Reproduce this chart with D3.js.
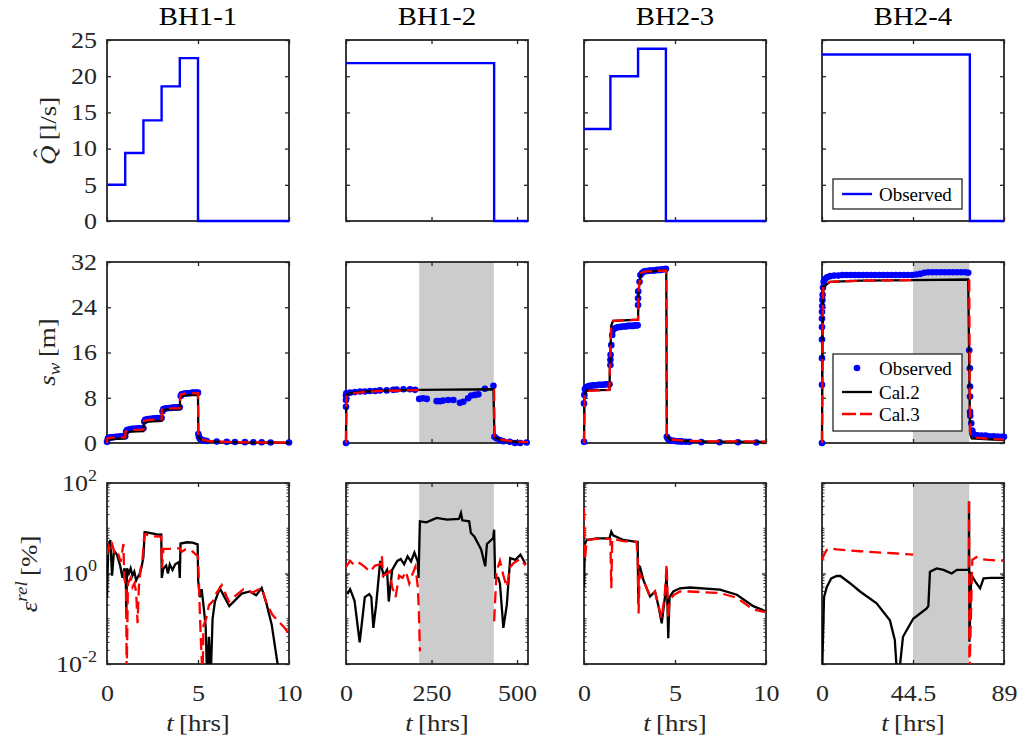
<!DOCTYPE html>
<html><head><meta charset="utf-8">
<script src="https://cdn.jsdelivr.net/npm/d3@7"></script>
<style>
body{margin:0;background:#fff;}
text{font-family:"Liberation Serif","Times New Roman",serif;}
</style></head><body>
<script>
// ---------------- data ----------------
const wells = ["BH1-1","BH1-2","BH2-3","BH2-4"];
const tMax = [10, 532, 10, 89];
const xTickVals = [[0,5,10],[0,250,500],[0,5,10],[0,44.5,89]];
const xTickLabels = [["0","5","10"],["0","250","500"],["0","5","10"],["0","44.5","89"]];
const qTickVals = [0,5,10,15,20,25];
const sTickVals = [0,8,16,24,32];
const eTickVals = [1e-2,1e0,1e2];
const eTickExp = ["-2","0","2"];
const shadeRanges = [null,[214,432],null,[44.5,72]];

// pumping rate (step after)
const qBH11 = [[0,5],[1,9.4],[2,13.9],[3,18.6],[4,22.5],[5,0],[10,0]];
const qBH12 = [[0,21.8],[433,0],[532,0]];
const qBH23 = [[0,12.7],[1.45,20.0],[2.97,23.8],[4.5,0],[10,0]];
const qBH24 = [[0,23.0],[72.3,0],[89,0]];

// drawdown observed
const obsBH11 = [[0,0.2],[0.05,0.8],[0.1,0.9],[0.2,1.0],[0.3,1.0],[0.4,1.05],[0.5,1.1],[0.6,1.1],[0.7,1.15],[0.8,1.2],[0.9,1.2],[1.0,1.2],
 [1.05,2.0],[1.1,2.3],[1.2,2.4],[1.3,2.45],[1.4,2.5],[1.5,2.5],[1.6,2.55],[1.7,2.55],[1.8,2.6],[1.9,2.6],[2.0,2.6],
 [2.05,3.8],[2.1,4.1],[2.2,4.2],[2.3,4.25],[2.4,4.3],[2.5,4.3],[2.6,4.35],[2.7,4.35],[2.8,4.4],[2.9,4.4],[3.0,4.4],
 [3.05,5.6],[3.1,6.0],[3.2,6.1],[3.3,6.15],[3.4,6.2],[3.5,6.2],[3.6,6.25],[3.7,6.25],[3.8,6.3],[3.9,6.3],[4.0,6.3],
 [4.05,8.3],[4.1,8.6],[4.2,8.7],[4.3,8.75],[4.4,8.8],[4.5,8.8],[4.6,8.85],[4.7,8.9],[4.8,8.9],[4.9,8.9],[5.0,8.9],
 [5.02,1.6],[5.05,1.1],[5.1,0.8],[5.15,0.65],[5.2,0.55],[5.3,0.45],[5.4,0.4],[5.48,0.35],[6.03,0.25],[6.58,0.2],[7.03,0.18],[7.58,0.15],[8.04,0.13],[8.5,0.12],[8.99,0.1],[10,0.1]];
const obsBH12 = [[0,0],[0,6.4],[0,7.6],[0,8.4],[1,8.8],[12,8.9],[26,9.0],[41,9.1],[55,9.1],[70,9.2],[85,9.2],[99,9.3],[119,9.3],[138,9.4],[148,9.45],[168,9.5],[187,9.5],[202,9.4],
 [214,7.8],[225,7.9],[236,7.8],[265,7.4],[275,7.4],[284,7.5],[299,7.6],[314,7.6],[333,7.1],[343,7.3],[357,7.9],[366,8.4],[377,8.5],[387,8.6],[406,9.6],[431,10.1],
 [434,1.1],[440,0.8],[450,0.5],[460,0.3],[479,0.2],[494,0.0],[509,0.0],[528,0.1]];
const obsBH23 = [[0,0.2],[0,7.0],[0.02,8.5],[0.05,9.5],[0.1,9.8],[0.2,10.0],[0.3,10.1],[0.4,10.1],[0.5,10.2],[0.6,10.2],[0.7,10.2],[0.8,10.3],[0.9,10.3],[1.0,10.3],[1.1,10.3],[1.2,10.4],[1.3,10.4],[1.4,10.4],
 [1.45,13.8],[1.45,14.7],[1.46,15.6],[1.5,17.3],[1.55,19.1],[1.6,20.0],[1.7,20.3],[1.8,20.4],[1.9,20.5],[2.0,20.5],[2.1,20.6],[2.2,20.6],[2.3,20.6],[2.4,20.7],[2.5,20.7],[2.6,20.7],[2.7,20.7],[2.8,20.8],[2.9,20.8],[2.95,20.8],
 [2.97,24.4],[2.97,25.6],[2.98,26.8],[3.05,28.5],[3.1,29.7],[3.2,30.1],[3.3,30.3],[3.4,30.4],[3.5,30.4],[3.6,30.5],[3.7,30.5],[3.8,30.5],[3.9,30.5],[4.0,30.6],[4.1,30.6],[4.2,30.6],[4.3,30.7],[4.4,30.7],[4.5,30.8],
 [4.55,1.1],[4.6,0.8],[4.65,0.6],[4.7,0.5],[4.8,0.45],[4.9,0.4],[5.0,0.35],[5.1,0.32],[5.2,0.3],[5.3,0.28],[5.4,0.25],[5.6,0.22],[5.8,0.2],[6.45,0.15],[7.45,0.12],[8.46,0.12],[9.47,0.1]];
const obsBH24 = [[0,0],[0,10.3],[0,15.0],[0,18.3],[0,20.5],[0,22.0],[0,23.2],[0.1,24.2],[0.2,25.3],[0.3,26.2],[0.5,27.5],[0.8,28.5],[1.5,29.0],[2.5,29.3],[4,29.5],[6,29.6],[8,29.6],[10,29.7],[12,29.7],[14,29.7],[16,29.7],[18,29.7],[20,29.7],[22,29.7],[24,29.7],[26,29.7],[28,29.7],[30,29.7],[32,29.7],[34,29.7],[36,29.7],[38,29.7],[40,29.7],[42,29.7],[44,29.7],[46,29.8],[48,29.9],[50,30.1],[52,30.2],[54,30.2],[56,30.2],[58,30.2],[60,30.2],[62,30.2],[64,30.2],[66,30.2],[68,30.2],[70,30.2],[71.5,30.1],
 [72,16.4],[72.3,13.2],[72.4,10.0],[72.4,8.2],[72.4,5.5],[72.5,4.8],[73,3.5],[73.5,2.2],[74,1.6],[75,1.4],[76,1.35],[78,1.3],[80,1.3],[82,1.2],[84,1.2],[86,1.15],[88,1.1],[89,1.1]];

// drawdown calibrated
const cal2BH11 = [[0,0],[0.02,0.6],[0.3,0.7],[1,0.8],[1.02,1.8],[1.3,2.0],[2,2.1],[2.02,3.6],[2.3,3.8],[3,3.9],[3.02,5.7],[3.3,5.95],[4,6.0],[4.02,8.2],[4.3,8.45],[5,8.5],[5.02,1.0],[5.2,0.5],[5.6,0.3],[6.5,0.15],[8,0.08],[10,0.05]];
const cal3BH11 = [[0,0],[0.02,0.8],[0.3,0.95],[1,1.0],[1.02,2.0],[1.3,2.3],[2,2.35],[2.02,3.9],[2.3,4.1],[3,4.15],[3.02,5.9],[3.3,6.1],[4,6.15],[4.02,8.5],[4.3,8.75],[5,8.8],[5.02,1.2],[5.2,0.6],[5.6,0.35],[6.5,0.2],[8,0.1],[10,0.08]];
const cal2BH12 = [[0,0],[1,8.4],[12,8.8],[50,9.1],[100,9.25],[216,9.4],[300,9.45],[431,9.5],[434,1.0],[445,0.7],[460,0.4],[500,0.2],[532,0.1]];
const cal3BH12 = [[0,0],[1,8.2],[12,8.7],[50,9.0],[100,9.2],[214,9.35],[215,null],[432,null],[433,9.5],[434,1.1],[445,0.8],[460,0.5],[500,0.25],[532,0.15]];
const cal2BH23 = [[0,0],[0.03,8.5],[0.15,9.3],[1.4,9.4],[1.42,13],[1.5,20.8],[1.6,21.6],[2.97,21.8],[3.0,27],[3.12,30.0],[3.3,30.3],[4.52,30.5],[4.55,1.3],[4.7,0.6],[5.5,0.35],[7,0.25],[10,0.2]];
const cal3BH23 = [[0,0],[0.03,8.7],[0.15,9.2],[1.4,9.4],[1.42,13],[1.5,20.8],[1.6,21.6],[2.97,21.8],[3.0,27],[3.12,30.0],[3.3,30.3],[4.52,30.5],[4.55,1.4],[4.7,0.65],[5.5,0.4],[7,0.3],[10,0.25]];
const cal2BH24 = [[0,0],[0.3,20],[0.65,27.6],[3.9,28.5],[18.6,28.7],[44.6,28.8],[71.5,28.9],[72.4,1.7],[73.2,0.8],[83.8,0.6],[89,0.5]];
const cal3BH24 = [[0,0],[0.3,21],[0.65,27.8],[3.9,28.5],[18.6,28.7],[44.5,28.8],[44.6,null],[71.9,null],[72.0,28.9],[72.4,1.9],[73.2,1.0],[83.8,0.7],[89,0.6]];

// relative error [%]
const err2BH11 = [[0,0.3],[0.07,4.0],[0.18,5.5],[0.28,0.9],[0.38,3.2],[0.55,2.6],[0.72,1.5],[0.85,0.8],[0.95,1.3],[1.03,1.0],[1.06,0.12],[1.1,1.3],[1.2,1.0],[1.3,1.3],[1.4,0.9],[1.5,1.1],[1.6,0.7],[1.7,0.85],[1.8,1.0],[1.9,1.4],[2.0,2.3],[2.07,8.2],[2.4,7.8],[2.8,7.2],[2.98,7.3],[3.01,0.8],[3.1,1.3],[3.25,1.5],[3.35,1.0],[3.45,1.6],[3.6,1.2],[3.75,1.6],[3.95,1.8],[4.0,0.8],[4.04,4.6],[4.4,4.9],[4.7,4.8],[4.98,4.4],[5.01,0.7],[5.1,0.3],[5.2,0.45],[5.3,0.2],[5.42,0.07],[5.5,0.005],[5.6,0.04],[5.7,0.005],[5.8,0.1],[5.93,0.24],[6.2,0.47],[6.72,0.19],[7.4,0.36],[7.85,0.40],[8.2,0.33],[8.5,0.48],[8.77,0.21],[9.05,0.074],[9.41,0.008]];
const err3BH11 = [[0,2.6],[0.1,4.0],[0.2,3.0],[0.3,4.2],[0.45,2.5],[0.6,2.8],[0.75,1.8],[0.9,4.5],[0.95,0.8],[1.05,0.5],[1.08,0.005],[1.15,0.6],[1.3,0.8],[1.4,0.5],[1.5,0.6],[1.6,0.4],[1.68,0.08],[1.75,0.5],[1.85,1.3],[1.95,2.0],[2.05,7.5],[2.4,6.8],[2.8,6.5],[2.98,6.5],[3.02,1.3],[3.1,3.5],[3.4,3.5],[3.8,3.6],[4.0,3.6],[4.1,3.0],[4.3,3.4],[4.6,3.3],[5.0,2.4],[5.05,0.6],[5.1,0.15],[5.15,0.04],[5.25,0.005],[5.3,0.07],[5.45,0.1],[5.6,0.2],[5.8,0.24],[6.0,0.36],[6.3,0.55],[6.7,0.24],[7.2,0.36],[7.5,0.45],[8.0,0.38],[8.5,0.48],[8.8,0.2],[9.1,0.12],[9.4,0.09],[9.8,0.06],[10,0.045]];
const err2BH12 = [[4,0.35],[12,0.45],[25,0.25],[40,0.03],[55,0.3],[68,0.35],[74,0.3],[80,0.063],[88,0.2],[100,1.9],[110,0.9],[120,1.2],[125,0.24],[135,1.2],[150,1.9],[160,2.1],[170,1.6],[180,2.4],[190,1.85],[200,2.9],[210,1.8],[212,0.8],[216,14.2],[235,13.5],[265,16.9],[295,15.5],[330,16.0],[336,21.8],[340,15],[360,14.2],[365,7.85],[375,6.6],[395,3.4],[407,1.44],[412,4.5],[430,6.0],[433,9.3],[436,0.8],[445,0.8],[450,0.6],[460,0.063],[470,0.2],[480,2.2],[495,2.0],[510,2.6],[525,1.6]];
const err3BH12 = [[0,1.4],[12,1.9],[25,1.5],[40,1.7],[55,1.4],[70,1.1],[85,1.5],[100,1.6],[105,2.4],[108,0.9],[120,1.0],[128,1.12],[135,0.5],[145,0.3],[155,0.9],[165,0.8],[175,1.1],[185,0.6],[195,1.0],[203,1.4],[210,0.5],[213,0.15],[216,0.019],[217,null],[432,null],[433,0.088],[440,1.1],[450,1.9],[460,0.9],[470,0.5],[480,1.4],[490,1.7],[510,2.1],[525,1.5]];
const err2BH23 = [[0,0.5],[0.05,4.5],[0.15,5.5],[0.7,6.0],[1.4,6.0],[1.5,8.4],[1.6,7.0],[2.16,5.5],[2.89,5.0],[2.95,5.0],[2.98,0.22],[3.0,1.5],[3.08,1.4],[3.26,0.72],[3.63,0.31],[3.9,0.4],[4.08,0.2],[4.27,0.079],[4.45,0.31],[4.54,1.0],[4.63,0.037],[4.7,0.3],[4.91,0.4],[5.27,0.47],[5.82,0.49],[7.47,0.44],[8.4,0.34],[9.3,0.19],[10,0.145]];
const err3BH23 = [[0,27.5],[0.05,2.0],[0.15,5.5],[0.7,5.8],[1.45,5.8],[1.5,0.47],[1.55,5.8],[2.16,5.2],[2.89,5.0],[2.95,2.0],[3.0,0.13],[3.05,1.0],[3.26,0.72],[3.63,0.31],[3.9,0.4],[4.08,0.2],[4.27,0.1],[4.45,0.4],[4.54,1.6],[4.63,0.1],[4.7,0.25],[4.91,0.33],[5.27,0.4],[5.82,0.4],[7.47,0.37],[8.4,0.29],[9.3,0.16],[10,0.14]];
const err2BH24 = [[0,0.005],[1,0.3],[2.3,0.5],[4.5,0.78],[7.2,0.88],[9,0.88],[13.7,0.61],[18.6,0.40],[26.7,0.22],[33.2,0.093],[35.6,0.034],[36.8,0.005],[37.5,0.005],[39.6,0.04],[44.6,0.10],[51.2,0.17],[52.0,0.19],[52.8,1.1],[56.1,1.3],[59.4,1.2],[63.4,1.0],[66,1.2],[70.8,1.2],[71.8,1.2],[71.9,39],[72.1,0.031],[73,0.93],[75,0.66],[77.3,0.47],[79,0.78],[82.6,0.8],[89,0.8]];
const err3BH24 = [[0,2.0],[1,2.6],[2.3,3.3],[4.5,3.6],[7.2,3.4],[18.6,3.1],[34.9,2.8],[44.6,2.6],[44.7,null],[71.8,null],[71.9,39],[72.1,0.005],[73.5,2.0],[75.5,2.3],[77.3,2.1],[81.3,2.0],[89,1.9]];

const qData = [qBH11,qBH12,qBH23,qBH24];
const obsData = [obsBH11,obsBH12,obsBH23,obsBH24];
const cal2Data = [cal2BH11,cal2BH12,cal2BH23,cal2BH24];
const cal3Data = [cal3BH11,cal3BH12,cal3BH23,cal3BH24];
const err2Data = [err2BH11,err2BH12,err2BH23,err2BH24];
const err3Data = [err3BH11,err3BH12,err3BH23,err3BH24];

// ---------------- layout ----------------
const PL=[107,346,584,822], PT=[40,262,483], PW=182, PH=181;
const AX="#262626";
const FS=23, SX=1.13;
const svg = d3.select("body").append("svg").attr("width",1020).attr("height",747);
const defs = svg.append("defs");

// widen glyphs horizontally (reference font is wider than Times)
function stretch(sel, sx){
  sel.each(function(){
    const t=d3.select(this);
    const x=+t.attr("x")||0, y=+t.attr("y")||0;
    const prev=t.attr("transform")||"";
    t.attr("x",0).attr("y",0).attr("transform",`${prev} translate(${x},${y}) scale(${sx},1)`);
  });
}
function styleAxis(g){
  g.select(".domain").remove();
  g.selectAll(".tick line").attr("stroke",AX).attr("stroke-width",1.3);
  g.selectAll(".tick text").attr("fill",AX).attr("font-size",FS).attr("font-family","Liberation Serif");
}

for (let c=0;c<4;c++){
  const x = d3.scaleLinear().domain([0,tMax[c]]).range([PL[c],PL[c]+PW]);
  const ys = [
    d3.scaleLinear().domain([0,25]).range([PT[0]+PH,PT[0]]),
    d3.scaleLinear().domain([0,32]).range([PT[1]+PH,PT[1]]),
    d3.scaleLog().domain([1e-2,1e2]).range([PT[2]+PH,PT[2]])
  ];
  const yTickSets=[qTickVals,sTickVals,eTickVals];
  for (let r=0;r<3;r++){
    const y=ys[r], top=PT[r], bot=PT[r]+PH;
    const g=svg.append("g");
    if (r>0 && shadeRanges[c]){
      g.append("rect").attr("x",x(shadeRanges[c][0])).attr("y",top)
        .attr("width",x(shadeRanges[c][1])-x(shadeRanges[c][0])).attr("height",PH).attr("fill","#cccccc");
    }
    const left=d3.axisLeft(y).tickValues(yTickSets[r]).tickSizeInner(-4).tickSizeOuter(0).tickPadding(10);
    if (c>0) left.tickFormat(()=>"");
    const gl=g.append("g").attr("transform",`translate(${PL[c]},0)`).call(left); styleAxis(gl);
    const right=d3.axisRight(y).tickValues(yTickSets[r]).tickSizeInner(-4).tickSizeOuter(0).tickFormat(()=>"");
    styleAxis(g.append("g").attr("transform",`translate(${PL[c]+PW},0)`).call(right));
    const bottom=d3.axisBottom(x).tickValues(xTickVals[c]).tickSizeInner(-4).tickSizeOuter(0)
      .tickFormat((d,i)=> r===2 ? xTickLabels[c][i] : "");
    const gb=g.append("g").attr("transform",`translate(0,${bot})`).call(bottom); styleAxis(gb);
    gb.selectAll(".tick text").attr("y",37).attr("dy",null);
    stretch(gb.selectAll(".tick text"),SX);
    const topAx=d3.axisTop(x).tickValues(xTickVals[c]).tickSizeInner(-4).tickSizeOuter(0).tickFormat(()=>"");
    styleAxis(g.append("g").attr("transform",`translate(0,${top})`).call(topAx));

    if (r===2){
      if (c===0){
        gl.selectAll(".tick text").each(function(d,i){
          const t=d3.select(this); t.text("");
          t.append("tspan").text("10");
          t.append("tspan").attr("font-size",16).attr("dy",-10).text(eTickExp[i]);
        });
      }
      const minors=[];
      for (let k=-2;k<2;k++) for (let m=2;m<=9;m++) minors.push(m*Math.pow(10,k));
      minors.push(1e-1,1e1);
      const mg=g.append("g");
      mg.selectAll("line.ml").data(minors).join("line").attr("x1",PL[c]).attr("x2",PL[c]+2.5)
        .attr("y1",d=>y(d)).attr("y2",d=>y(d)).attr("stroke",AX).attr("stroke-width",1);
      mg.selectAll("line.mr").data(minors).join("line").attr("x1",PL[c]+PW).attr("x2",PL[c]+PW-2.5)
        .attr("y1",d=>y(d)).attr("y2",d=>y(d)).attr("stroke",AX).attr("stroke-width",1);
    }
    stretch(gl.selectAll(".tick text"),SX);

    g.append("rect").attr("x",PL[c]).attr("y",top).attr("width",PW).attr("height",PH)
      .attr("fill","none").attr("stroke",AX).attr("stroke-width",1.8);

    const line=d3.line().defined(d=>d[1]!==null).x(d=>x(d[0])).y(d=>y(d[1]));
    if (r===0){
      g.append("path").datum(qData[c]).attr("d",line.curve(d3.curveStepAfter))
        .attr("fill","none").attr("stroke","#0000ff").attr("stroke-width",2.4);
    } else if (r===1){
      g.append("g").selectAll("circle").data(obsData[c]).join("circle")
        .attr("cx",d=>x(d[0])).attr("cy",d=>y(d[1])).attr("r",3.3).attr("fill","#0000ff");
      g.append("path").datum(cal2Data[c]).attr("d",line).attr("fill","none").attr("stroke","#000").attr("stroke-width",2.3);
      g.append("path").datum(cal3Data[c]).attr("d",line).attr("fill","none").attr("stroke","#ff0000").attr("stroke-width",2.3).attr("stroke-dasharray","12,6");
    } else {
      const cid="clip"+c;
      defs.append("clipPath").attr("id",cid).append("rect").attr("x",PL[c]).attr("y",top).attr("width",PW).attr("height",PH);
      const dg=g.append("g").attr("clip-path",`url(#${cid})`);
      dg.append("path").datum(err2Data[c]).attr("d",line).attr("fill","none").attr("stroke","#000").attr("stroke-width",2.3);
      dg.append("path").datum(err3Data[c]).attr("d",line).attr("fill","none").attr("stroke","#ff0000").attr("stroke-width",2.3).attr("stroke-dasharray","12,6");
    }
  }
  const tt=svg.append("text").attr("x",PL[c]+PW/2).attr("y",25).attr("text-anchor","middle")
    .attr("font-size",25).attr("fill","#000").text(wells[c]);
  stretch(tt,1.15);
  const xl=svg.append("text").attr("x",PL[c]+PW/2).attr("y",731).attr("text-anchor","middle").attr("font-size",24).attr("fill",AX);
  xl.append("tspan").attr("font-style","italic").text("t");
  xl.append("tspan").text("\u2009[hrs]");
  stretch(xl,1.12);
}

// y labels
const yl1=svg.append("text").attr("transform","translate(56,131) rotate(-90)").attr("text-anchor","middle").attr("font-size",24).attr("fill",AX);
yl1.append("tspan").attr("font-style","italic").text("Q");
yl1.append("tspan").attr("dx","-0.45em").attr("dy",-6).text("\u02C6");
yl1.append("tspan").attr("dx","0.12em").attr("dy",6).text("\u2009[l/s]");
stretch(yl1,1.12);

const yl2=svg.append("text").attr("transform","translate(55,352) rotate(-90)").attr("text-anchor","middle").attr("font-size",24).attr("fill",AX);
yl2.append("tspan").attr("font-style","italic").text("s");
yl2.append("tspan").attr("font-style","italic").attr("font-size",17).attr("dy",5).text("w");
yl2.append("tspan").attr("dy",-5).text("\u2009[m]");
stretch(yl2,1.12);

const yl3=svg.append("text").attr("transform","translate(37,574) rotate(-90)").attr("text-anchor","middle").attr("font-size",24).attr("fill",AX);
yl3.append("tspan").attr("font-style","italic").text("\u03B5");
yl3.append("tspan").attr("font-style","italic").attr("font-size",17).attr("dy",-10).text("rel");
yl3.append("tspan").attr("dy",10).text("\u2009[%]");
stretch(yl3,1.12);

// legends
const lg1=svg.append("g");
lg1.append("rect").attr("x",833).attr("y",179).attr("width",129).attr("height",30).attr("fill","#fff").attr("stroke",AX).attr("stroke-width",1.3);
lg1.append("line").attr("x1",842).attr("x2",872).attr("y1",194).attr("y2",194).attr("stroke","#0000ff").attr("stroke-width",2.4);
lg1.append("text").attr("x",879).attr("y",194).attr("dy","0.35em").attr("font-size",19).attr("fill","#000").text("Observed");

const lg2=svg.append("g");
lg2.append("rect").attr("x",833).attr("y",354).attr("width",129).attr("height",77).attr("fill","#fff").attr("stroke",AX).attr("stroke-width",1.3);
lg2.append("circle").attr("cx",857).attr("cy",368).attr("r",3.3).attr("fill","#0000ff");
lg2.append("line").attr("x1",842).attr("x2",872).attr("y1",392).attr("y2",392).attr("stroke","#000").attr("stroke-width",2.3);
lg2.append("line").attr("x1",842).attr("x2",872).attr("y1",414).attr("y2",414).attr("stroke","#ff0000").attr("stroke-width",2.3).attr("stroke-dasharray","14,4");
[["Observed",368],["Cal.2",392],["Cal.3",414]].forEach(([t,yy])=>{
  lg2.append("text").attr("x",879).attr("y",yy).attr("dy","0.35em").attr("font-size",19).attr("fill","#000").text(t);
});
</script>
</body></html>
